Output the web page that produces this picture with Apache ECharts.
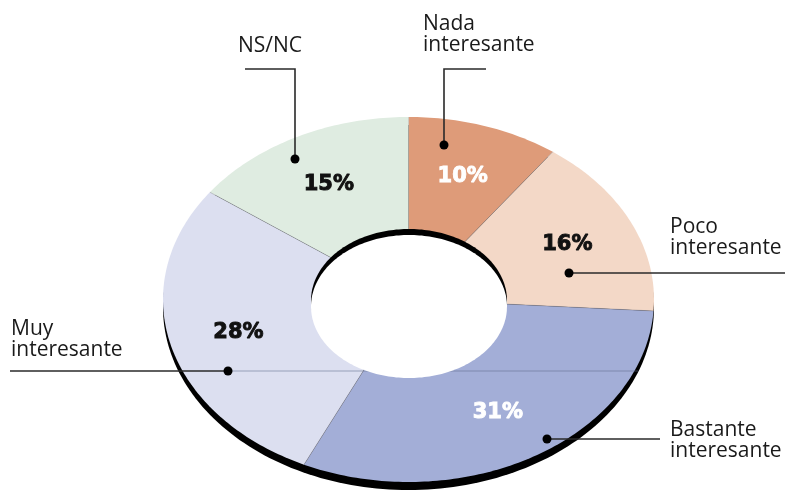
<!DOCTYPE html>
<html><head><meta charset="utf-8">
<script src="https://cdn.jsdelivr.net/npm/echarts@6/dist/echarts.min.js"></script>
<style>html,body{margin:0;padding:0;background:#fff}#c{width:785px;height:491px}</style>
</head><body><div id="c"></div>
<script>
const categories = ['Nada interesante','Poco interesante','Bastante interesante','Muy interesante','NS/NC'];
const values = [10,16,31,28,15];
const sliceColors = ['#DE9B79','#F3D8C7','#A3AED7','#DCDFF0','#DFECE1'];
const labelColors = ['#ffffff','#111111','#ffffff','#111111','#111111'];

const CX=408.5, CY=299.5, RX=245.5, RY=182.5;
const total = values.reduce((a,b)=>a+b,0);
const starts = []; let acc=0; values.forEach(v=>{starts.push(acc); acc+=v;});

function pt(frac, r){ const a=frac*2*Math.PI; return [CX+RX*r*Math.sin(a), CY-RY*r*Math.cos(a)]; }
function ellipsePts(cx,cy,rx,ry){ const p=[]; const n=240; for(let i=0;i<n;i++){const a=i/n*2*Math.PI; p.push([cx+rx*Math.cos(a), cy+ry*Math.sin(a)]);} return p;}

// annotation layout: [category index, text x, first baseline, leader polyline]
const annos = [
  {i:0, x:423, base:30, pts:[[486,69],[444,69],[444,145]]},
  {i:4, x:238, base:52, pts:[[245,69],[295,69],[295,159]]},
  {i:1, x:670, base:233, pts:[[785,273],[569,273]]},
  {i:2, x:670, base:436, pts:[[660,439],[547,439]]},
  {i:3, x:11, base:335, pts:[[10,371],[228,371]]}
];

const graphics = [];
graphics.push({type:'polygon', z:1, shape:{points:ellipsePts(CX, CY+8, RX, RY)}, style:{fill:'#000'}});
graphics.push({type:'line', z:3, shape:{x1:228,y1:371,x2:638,y2:371}, style:{stroke:'rgba(95,105,140,0.55)', lineWidth:1}});
graphics.push({type:'polygon', z:4, shape:{points:ellipsePts(409, 300.5, 98, 71.5)}, style:{fill:'#000'}});
graphics.push({type:'polygon', z:5, shape:{points:ellipsePts(409, 306.5, 98, 71.5)}, style:{fill:'#fff'}});
annos.forEach(a=>{
  graphics.push({type:'text', z:6, x:a.x, y:a.base-16.5, style:{text:categories[a.i].replace(' ','\n'), font:'21px "Open Sans"', fill:'#1a1a1a', lineHeight:21, align:'left', verticalAlign:'top'}});
  graphics.push({type:'polyline', z:6, shape:{points:a.pts}, style:{stroke:'#2a2a2a', lineWidth:1.6, fill:null}});
  const d = a.pts[a.pts.length-1];
  graphics.push({type:'circle', z:6, shape:{cx:d[0], cy:d[1], r:4.5}, style:{fill:'#000'}});
});

const chart = echarts.init(document.getElementById('c'), null, {renderer:'canvas'});
chart.setOption({
  animation:false,
  backgroundColor:'#fff',
  series:[{
    type:'custom',
    coordinateSystem:'none',
    z:2,
    data: values.map((v,i)=>[starts[i], v, categories[i]]),
    renderItem:function(params, api){
      const i = params.dataIndex;
      const s = api.value(0), v = api.value(1);
      const f0 = s/total, f1 = (s+v)/total;
      const n = Math.max(2, Math.ceil((f1-f0)*360));
      const pts=[[CX,CY]];
      for(let k=0;k<=n;k++) pts.push(pt(f0+(f1-f0)*k/n,1));
      const e = pt(f0,1);
      const lp = pt((f0+f1)/2, 0.715);
      return {type:'group', children:[
        {type:'polygon', shape:{points:pts}, style:{fill:sliceColors[i]}},
        {type:'line', shape:{x1:CX,y1:CY,x2:e[0],y2:e[1]}, style:{stroke:'rgba(110,110,120,0.5)', lineWidth:0.7}},
        {type:'text', x:lp[0], y:lp[1]+1, z2:10, style:{text:v+'%', fill:labelColors[i], font:'bold 21px "DejaVu Sans"', align:'center', verticalAlign:'middle', stroke:labelColors[i], lineWidth:0.9}}
      ]};
    }
  }],
  graphic: graphics
});
</script></body></html>
